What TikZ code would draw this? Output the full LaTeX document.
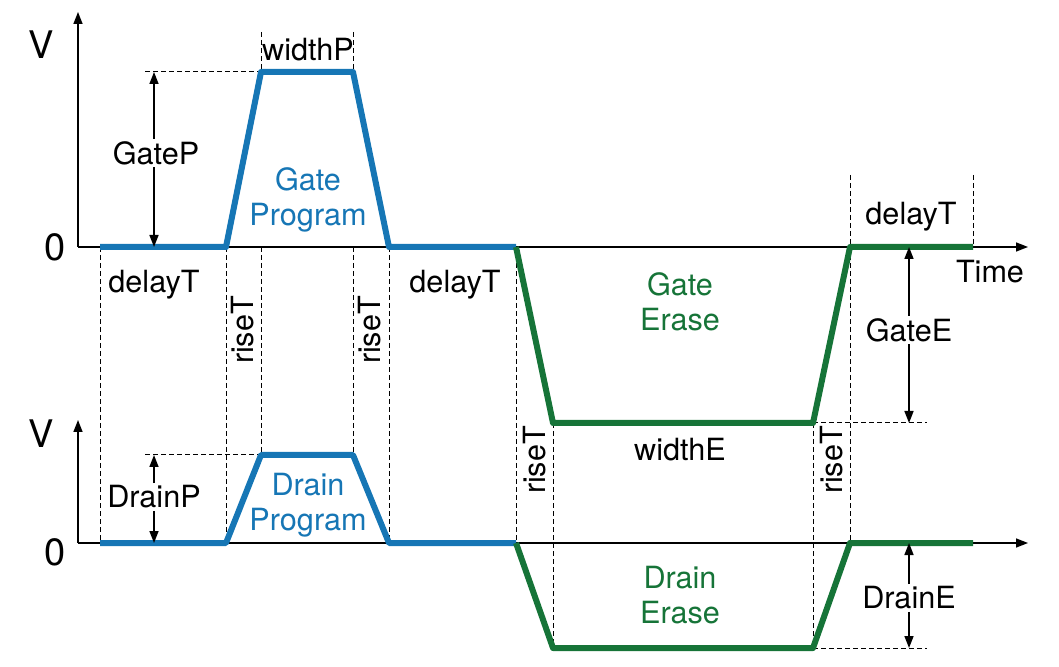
\documentclass[tikz,border=0pt]{standalone}
\usepackage{fontspec}
\setmainfont{TeX Gyre Heros}
\usepackage{tikz}
\usetikzlibrary{arrows.meta}

\definecolor{progblue}{RGB}{22,118,181}
\definecolor{erasegreen}{RGB}{22,116,56}

\tikzset{
  axis/.style={line width=0.8pt, -{Triangle[length=6pt,width=4.5pt]}},
  guide/.style={dashed, line width=0.5pt, dash pattern=on 2.5pt off 1.5pt},
  dim/.style={line width=0.8pt, -{Triangle[length=6pt,width=4.5pt]}},
  prog/.style={progblue, line width=3pt, line join=round},
  erase/.style={erasegreen, line width=3pt, line join=round},
  lbl/.style={inner sep=1pt},
  risebox/.style={inner sep=1pt, rotate=90},
  axlbl/.style={font=\fontsize{19}{22}\selectfont},
}

\begin{document}
\begin{tikzpicture}[x=0.5pt, y=-0.5pt, font=\fontsize{15.3}{17.5}\selectfont]
\useasboundingbox (0,0) rectangle (1059,667);

% gate pulse corners
\coordinate (g0) at (100,247);
\coordinate (g1) at (226,247);
\coordinate (g2) at (261,72);
\coordinate (g3) at (353,72);
\coordinate (g4) at (389,247);
\coordinate (g5) at (516,247);
\coordinate (g6) at (553,423);
\coordinate (g7) at (813,423);
\coordinate (g8) at (850,247);
\coordinate (g9) at (973,247);
% drain pulse corners
\coordinate (d0) at (100,543);
\coordinate (d1) at (226,543);
\coordinate (d2) at (261,455);
\coordinate (d3) at (353,455);
\coordinate (d4) at (389,543);
\coordinate (d5) at (516,543);
\coordinate (d6) at (553,648);
\coordinate (d7) at (813,648);
\coordinate (d8) at (850,543);
\coordinate (d9) at (973,543);

% axes
\coordinate (o1) at (78,247);
\coordinate (o2) at (78,543);
\draw[axis] (o1) -- (78,12);
\draw[axis] (o1) -- (1028,247);
\draw[axis] (o2) -- (78,420);
\draw[axis] (o2) -- (1028,543);
\node[axlbl] (v1) at (41,45) {V};
\node[axlbl] (z1) at (55,247) {0};
\node[axlbl] (v2) at (41,434) {V};
\node[axlbl] (z2) at (55,552) {0};
\node (time) at (990,272) {Time};

% guide lines
\draw[guide] (g0) -- (d0);
\draw[guide] (g1) -- (d1);
\draw[guide] (261,32) -- (g2);
\draw[guide] (353,32) -- (g3);
\draw[guide] (261,247) -- (d2);
\draw[guide] (353,247) -- (d3);
\draw[guide] (g4) -- (d4);
\draw[guide] (g5) -- (d5);
\draw[guide] (g6) -- (d6);
\draw[guide] (g7) -- (d7);
\draw[guide] (850,175) -- (d8);
\draw[guide] (973,175) -- (g9);
\draw[guide] (145,72) -- (g2);
\draw[guide] (145,455) -- (d2);
\draw[guide] (g7) -- (927,423);
\draw[guide] (d7) -- (927,648);

% pulses
\draw[prog] (g0) -- (g1) -- (g2) -- (g3) -- (g4) -- (g5);
\draw[erase] (g5) -- (g6) -- (g7) -- (g8) -- (g9);
\draw[prog] (d0) -- (d1) -- (d2) -- (d3) -- (d4) -- (d5);
\draw[erase] (d5) -- (d6) -- (d7) -- (d8) -- (d9);

% pulse names
\node[progblue, align=center] (gprog) at (308,200) {Gate\\Program};
\node[progblue, align=center] (dprog) at (308,505) {Drain\\Program};
\node[erasegreen, align=center] (gerase) at (680,302) {Gate\\Erase};
\node[erasegreen, align=center] (derase) at (680,595) {Drain\\Erase};

% timing labels
\node[lbl] (widthP) at (308,50) {widthP};
\node[lbl] (widthE) at (680,450) {widthE};
\node[lbl] (delay1) at (154,285) {delayT};
\node[lbl] (delay2) at (455,285) {delayT};
\node[lbl] (delay3) at (911,217) {delayT};
\node[risebox] (rise1) at (243,330) {riseT};
\node[risebox] (rise2) at (370,330) {riseT};
\node[risebox] (rise3) at (535,460) {riseT};
\node[risebox] (rise4) at (832,460) {riseT};

% amplitude labels
\node[lbl] (gateP) at (156,153) {GateP};
\draw[dim] (gateP.north -| 154,0) -- (154,72);
\draw[dim] (gateP.south -| 154,0) -- (154,247);
\node[lbl] (drainP) at (154,497) {DrainP};
\draw[dim] (drainP.north) -- (154,455);
\draw[dim] (drainP.south) -- (154,543);
\node[lbl] (gateE) at (909,330) {GateE};
\draw[dim] (gateE.north) -- (909,247);
\draw[dim] (gateE.south) -- (909,423);
\node[lbl] (drainE) at (909,598) {DrainE};
\draw[dim] (drainE.north) -- (909,543);
\draw[dim] (drainE.south) -- (909,648);
\end{tikzpicture}
\end{document}
